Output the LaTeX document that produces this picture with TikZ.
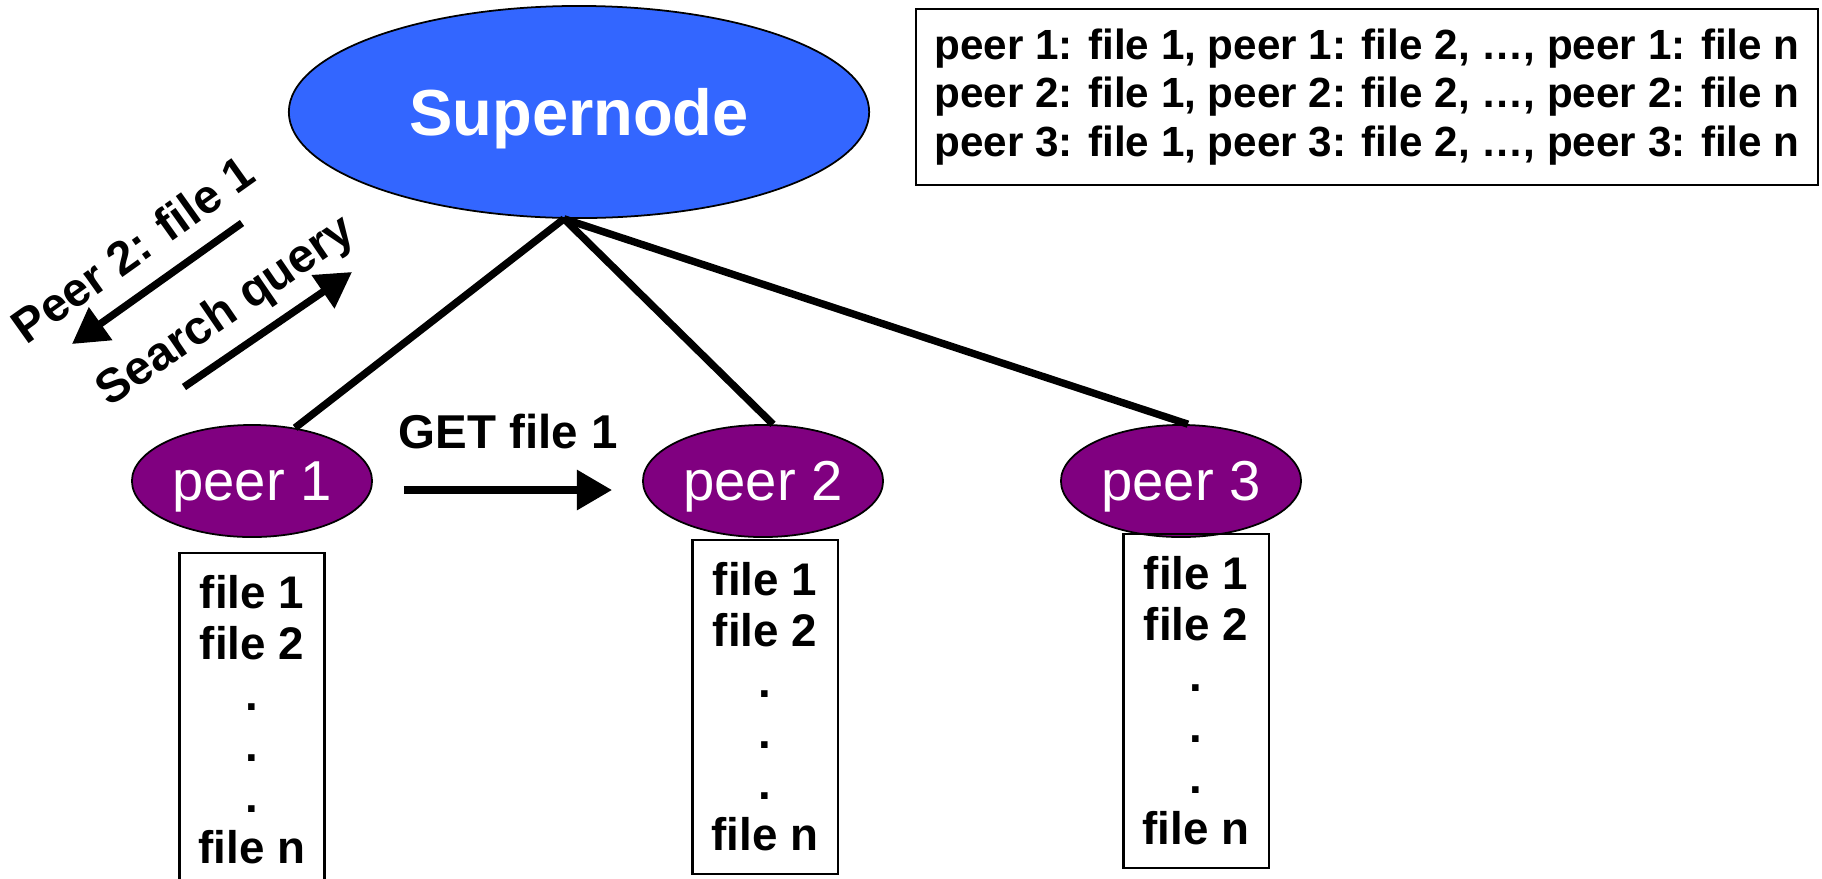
\documentclass[tikz,border=0pt]{standalone}
\usepackage{fontspec}
\setmainfont{Liberation Sans}
\usetikzlibrary{shapes.geometric, arrows.meta, positioning}

\definecolor{superblue}{RGB}{51,102,255}
\definecolor{peerpurple}{RGB}{128,0,128}

\begin{document}
\begin{tikzpicture}[x=0.01cm,y=-0.01cm,>={Triangle[length=10pt,width=11pt]},link/.style={line width=2.1pt}]
	\tikzset{super/.style={ellipse, draw=black, line width=0.5pt, fill=superblue, text=white, font=\fontsize{18.5}{20}\selectfont\bfseries, text depth=0pt, minimum width=5.8cm, minimum height=2.12cm, inner sep=0pt}}
	\tikzset{peer/.style={ellipse, draw=black, line width=0.5pt, fill=peerpurple, text=white, font=\fontsize{16}{18}\selectfont, text depth=0pt, minimum width=2.4cm, minimum height=1.12cm, inner sep=0pt}}
	\tikzset{files/.style={draw=black, line width=0.6pt, align=center, font=\fontsize{13}{14.5}\selectfont\bfseries, minimum width=1.45cm, minimum height=3.33cm, inner sep=0pt}}
	\tikzset{msg/.style={inner sep=0pt, font=\fontsize{13.5}{15}\selectfont\bfseries}}
	\clip (0,0) rectangle (1822,878);
	\node[super] (sn) at (579,112) {Supernode};
	\node[peer] (p1) at (252,481) {peer 1};
	\node[peer] (p2) at (763,481) {peer 2};
	\node[peer] (p3) at (1181,481) {peer 3};
	\node[files] (f1) at (252,720) {file 1\\file 2\\.\\.\\.\\file n};
	\node[files] (f2) at (765,707) {file 1\\file 2\\.\\.\\.\\file n};
	\node[files] (f3) at (1196,701) {file 1\\file 2\\.\\.\\.\\file n};
	\node[draw=black, line width=0.6pt, align=left, font=\fontsize{12}{13.8}\selectfont\bfseries, minimum width=9.02cm, minimum height=1.76cm] (index) at (1367,97)
		{peer 1: file 1, peer 1: file 2, …, peer 1: file n\\
		 peer 2: file 1, peer 2: file 2, …, peer 2: file n\\
		 peer 3: file 1, peer 3: file 2, …, peer 3: file n};
	\path[link]
		(sn.262) edge (p1.51)
		(sn.262) edge (p2.80)
		(sn.262) edge (p3.83);
	% query goes up, answer comes back
	\coordinate (a0) at (72,344);
	\coordinate (a1) at (242,223);
	\coordinate (b0) at (184,387);
	\coordinate (b1) at (352,272);
	\draw[link, <-] (a0) -- node[msg, sloped, above=6pt] {Peer 2: file 1} (a1);
	\draw[link, ->] (b0) -- node[msg, sloped, above=3.3pt, pos=0.38] {Search query} (b1);
	\draw[link, ->] ([xshift=0.31cm, yshift=-0.09cm]p1.east) -- node[msg, above=10.5pt] {GET file 1} ([xshift=-0.3cm, yshift=-0.09cm]p2.west);
\end{tikzpicture}
\end{document}
